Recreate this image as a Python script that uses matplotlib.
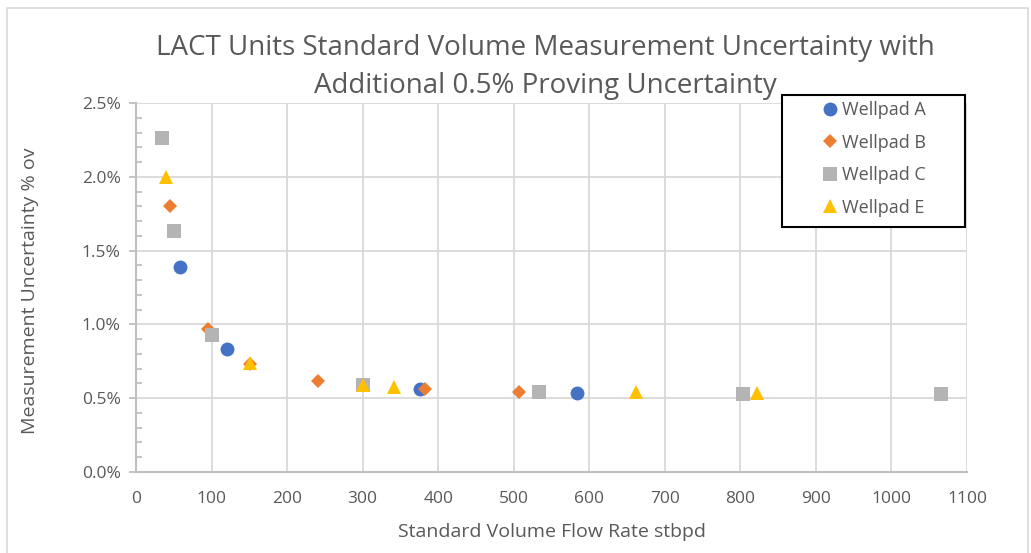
import matplotlib
matplotlib.use('Agg')
import matplotlib.pyplot as plt
from matplotlib.ticker import MultipleLocator, FuncFormatter
from matplotlib.patches import Rectangle

# Data (flow in stbpd, uncertainty in %)
wellpadA_x = [58, 120, 376, 584]
wellpadA_y = [1.39, 0.83, 0.56, 0.535]
wellpadB_x = [45, 95, 151, 241, 382, 507]
wellpadB_y = [1.80, 0.97, 0.73, 0.615, 0.56, 0.545]
wellpadC_x = [35, 50, 100, 301, 533, 804, 1065]
wellpadC_y = [2.26, 1.63, 0.93, 0.59, 0.545, 0.53, 0.53]
wellpadE_x = [40, 151, 301, 341, 662, 822]
wellpadE_y = [2.00, 0.74, 0.59, 0.575, 0.54, 0.535]

series = [
    ('Wellpad A', wellpadA_x, wellpadA_y, 'o', '#4472C4', 10),
    ('Wellpad B', wellpadB_x, wellpadB_y, 'D', '#ED7D31', 7.5),
    ('Wellpad C', wellpadC_x, wellpadC_y, 's', '#B4B4B4', 9.5),
    ('Wellpad E', wellpadE_x, wellpadE_y, '^', '#FFC000', 10),
]

txt = '#595959'
plt.rcParams['font.family'] = ['Open Sans', 'DejaVu Sans']

fig = plt.figure(figsize=(10.31, 5.53), dpi=100)
ax = fig.add_axes([136 / 1031, 81 / 553, 831 / 1031, 369 / 553])

for name, xs, ys, m, c, ms in series:
    ax.plot(xs, ys, linestyle='none', marker=m, color=c, markersize=ms,
            markeredgewidth=0, label=name, zorder=3)

ax.set_xlim(0, 1100)
ax.set_ylim(0, 2.5)
ax.xaxis.set_major_locator(MultipleLocator(100))
ax.yaxis.set_major_locator(MultipleLocator(0.5))
ax.yaxis.set_minor_locator(MultipleLocator(0.1))
ax.yaxis.set_major_formatter(FuncFormatter(lambda v, p: '{:.1f}%'.format(v)))
ax.grid(True, which='major', color='#d9d9d9', linewidth=1.3)
ax.set_axisbelow(True)

for s in ['top', 'right']:
    ax.spines[s].set_visible(False)
for s in ['left', 'bottom']:
    ax.spines[s].set_color('#bfbfbf')
    ax.spines[s].set_linewidth(1.5)

ax.tick_params(axis='x', length=0, pad=14, labelsize=12.5, labelcolor=txt)
ax.tick_params(axis='y', which='major', length=5, width=1.3, color='#bfbfbf',
               direction='out', pad=6, labelsize=12.5, labelcolor=txt)
ax.tick_params(axis='y', which='minor', length=4, width=1.3, color='#bfbfbf',
               direction='in')

fig.text(545 / 1031, 1 - 67 / 553,
         'LACT Units Standard Volume Measurement Uncertainty with\nAdditional 0.5% Proving Uncertainty',
         ha='center', va='center', fontsize=20, color=txt, linespacing=1.45)
fig.text(552 / 1031, 1 - 532 / 553, 'Standard Volume Flow Rate stbpd',
         ha='center', va='center', fontsize=14, color=txt)
fig.text(30 / 1031, 1 - 291 / 553, 'Measurement Uncertainty % ov',
         ha='center', va='center', rotation=90, fontsize=14, color=txt)

# legend box drawn separately so its contents sit centred in a wide frame
fig.patches.append(Rectangle((782 / 1031, 1 - 227 / 553), 183 / 1031, 132 / 553,
                             transform=fig.transFigure, facecolor='white',
                             edgecolor='black', linewidth=1.5, zorder=4))
leg = ax.legend(loc='center', bbox_to_anchor=(873 / 1031, 1 - 159 / 553),
                bbox_transform=fig.transFigure, frameon=False, fontsize=13,
                labelcolor=txt, handletextpad=0.1, handlelength=1.1,
                labelspacing=0.8, borderpad=0)
leg.set_zorder(5)
fig.legends.append(ax.legend_)
ax.legend_ = None

fig.patches.append(Rectangle((7 / 1031, -0.01), 1021 / 1031, 1 - 8 / 553 + 0.01,
                             transform=fig.transFigure, fill=False,
                             edgecolor='#d9d9d9', linewidth=1.2))

fig.savefig('out.png', dpi=100)
